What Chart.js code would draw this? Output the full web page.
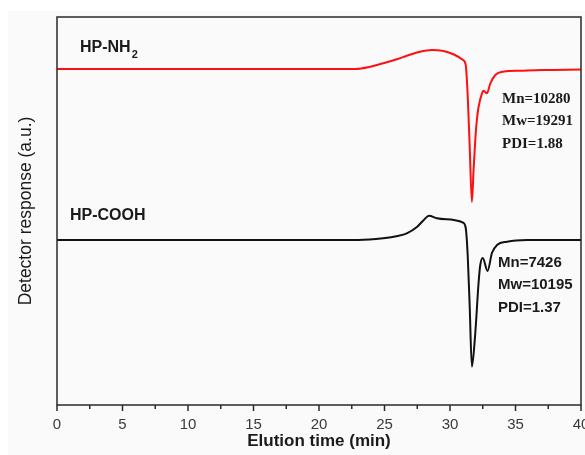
<!DOCTYPE html>
<html>
<head>
<meta charset="utf-8">
<script src="https://cdn.jsdelivr.net/npm/chart.js@4/dist/chart.umd.min.js"></script>
<style>
  html, body { margin: 0; padding: 0; background: #fff; }
  #wrap { width: 585px; height: 455px; position: relative; }
</style>
</head>
<body>
<div id="wrap"><canvas id="gpc"></canvas></div>
<script>
  // GPC traces, elution time (min) vs detector response (a.u., arbitrary offset)
  var xTicks = [0, 5, 10, 15, 20, 25, 30, 35, 40];

  var nh2Time = [0, 5, 10, 15, 20, 22.8, 24, 24.9, 26, 26.7, 27.7, 28.6, 29.5, 30.3, 31.0, 31.2, 31.35, 31.5, 31.67, 31.8, 31.93, 32.05, 32.18, 32.44, 32.56, 32.82, 33.08, 33.46, 34.07, 35.37, 37, 40];
  var nh2Resp = [336, 336, 336, 336, 336, 336, 338.5, 341.7, 346, 349.3, 353.3, 355, 354, 350.5, 345, 340, 310, 260, 203, 235, 265, 285, 298, 311.7, 314.3, 311.7, 321.7, 330, 333.3, 334.3, 335, 335.5];

  var coohTime = [0, 5, 10, 15, 20, 23, 24.9, 26, 26.7, 27.5, 28.0, 28.4, 29.0, 30.3, 31.0, 31.2, 31.35, 31.5, 31.67, 31.93, 32.18, 32.31, 32.5, 32.87, 33.2, 33.59, 34.35, 35.88, 40];
  var coohResp = [165, 165, 165, 165, 165, 165, 166.7, 169, 171.7, 178.3, 185, 189.3, 186.7, 185, 182.3, 177, 150, 100, 38.3, 72, 122, 140, 147, 134, 152, 160, 163.3, 165, 165];

  var nh2Stats = ["Mn=10280", "Mw=19291", "PDI=1.88"];
  var coohStats = ["Mn=7426", "Mw=10195", "PDI=1.37"];

  function pts(xs, ys) { return xs.map(function (x, i) { return { x: x, y: ys[i] }; }); }

  var paper = {
    id: "paper",
    beforeDraw: function (c) {
      var g = c.ctx;
      g.save();
      g.fillStyle = "#ffffff"; g.fillRect(0, 0, c.width, c.height);
      g.fillStyle = "#fafafa"; g.fillRect(8, 11, c.width - 8, c.height - 11);
      g.restore();
    },
    afterDatasetsDraw: function (c) {
      var g = c.ctx, a = c.chartArea, sx = c.scales.x;
      g.save();
      // frame
      g.strokeStyle = "#2a2a2a"; g.lineWidth = 1.5;
      g.strokeRect(a.left, a.top, a.right - a.left, a.bottom - a.top);
      // ticks outward, minor ones shorter
      sx.ticks.forEach(function (t) {
        var px = sx.getPixelForValue(t.value);
        var len = (t.value % 5 === 0) ? 6 : 4;
        g.beginPath(); g.moveTo(px, a.bottom); g.lineTo(px, a.bottom + len); g.stroke();
      });
      // sample names
      g.fillStyle = "#1a1a1a"; g.textBaseline = "alphabetic"; g.textAlign = "left";
      g.font = "bold 16px 'Liberation Sans', Arial, sans-serif";
      g.fillText("HP-NH", 80, 52);
      var w = g.measureText("HP-NH").width;
      g.font = "bold 11px 'Liberation Sans', Arial, sans-serif";
      g.fillText("2", 80 + w + 1, 58);
      g.font = "bold 16px 'Liberation Sans', Arial, sans-serif";
      g.fillText("HP-COOH", 70, 220);
      // molecular weight notes
      g.font = "bold 15px 'Liberation Serif', 'Times New Roman', serif";
      nh2Stats.forEach(function (s, i) { g.fillText(s, 502, 103 + i * 22.3); });
      g.font = "bold 15px 'Liberation Sans', Arial, sans-serif";
      coohStats.forEach(function (s, i) { g.fillText(s, 498, 267 + i * 22.3); });
      g.restore();
    }
  };

  new Chart(document.getElementById("gpc"), {
    type: "line",
    data: {
      datasets: [
        { label: "HP-NH2", data: pts(nh2Time, nh2Resp), borderColor: "#ff1010", borderWidth: 2, pointRadius: 0, cubicInterpolationMode: "monotone", fill: false },
        { label: "HP-COOH", data: pts(coohTime, coohResp), borderColor: "#111111", borderWidth: 2, pointRadius: 0, cubicInterpolationMode: "monotone", fill: false }
      ]
    },
    options: {
      responsive: true, maintainAspectRatio: false, animation: false,
      layout: { padding: { top: 17, right: 4, left: 0, bottom: 0 } },
      plugins: { legend: { display: false }, tooltip: { enabled: false } },
      scales: {
        x: {
          type: "linear", min: 0, max: 40,
          afterBuildTicks: function (s) {
            var t = [];
            for (var v = 0; v <= 40; v += 2.5) t.push({ value: v });
            s.ticks = t;
          },
          afterFit: function (s) { s.height = 50; s.paddingLeft = 0; s.paddingRight = 0; },
          border: { display: false },
          grid: { display: true, drawOnChartArea: false, color: "rgba(0,0,0,0)", tickLength: 6 },
          ticks: {
            autoSkip: false, maxRotation: 0, padding: 5, color: "#3a3a3a",
            font: { family: "'Liberation Sans', Arial, sans-serif", size: 15 },
            callback: function (v) { return xTicks.indexOf(v) >= 0 ? String(v) : ""; }
          },
          title: { display: true, text: "Elution time (min)", color: "#1a1a1a", padding: { top: 0, bottom: 3 },
            font: { family: "'Liberation Sans', Arial, sans-serif", size: 17, weight: "bold" } }
        },
        y: {
          min: 0, max: 388,
          afterFit: function (s) { s.width = 57; },
          border: { display: false },
          grid: { display: false },
          ticks: { display: false },
          title: { display: true, text: "Detector response (a.u.)", color: "#1a1a1a", padding: { top: 16, bottom: 0 },
            font: { family: "'Liberation Sans', Arial, sans-serif", size: 17.5 } }
        }
      }
    },
    plugins: [paper]
  });
</script>
</body>
</html>
